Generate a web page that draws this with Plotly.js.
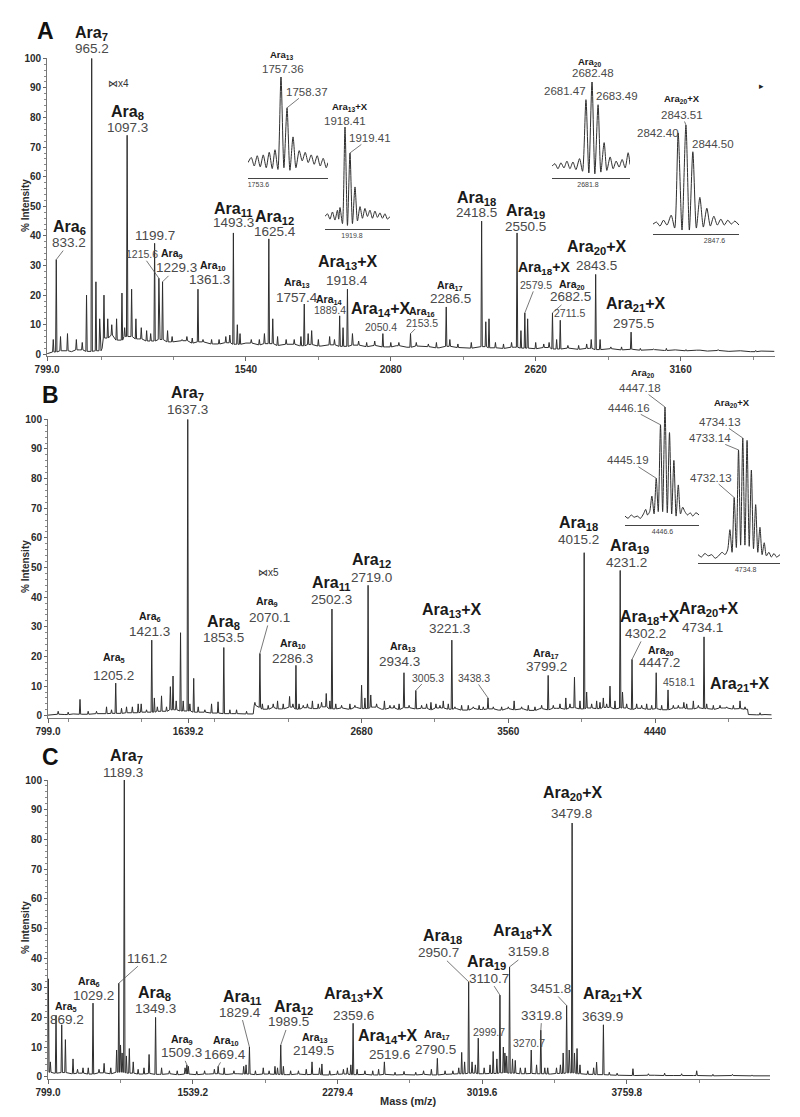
<!DOCTYPE html>
<html><head><meta charset="utf-8">
<script src="https://cdn.plot.ly/plotly-3.0.1.min.js"></script>
<style>body{margin:0;background:#fff}#chart{width:800px;height:1117px}</style>
</head><body><div id="chart"></div>
<script>
// ---------------- DATA ----------------
// Panel A: baseline level [m/z, %] and peaks [m/z, %]
const baseA = [[799,0.2],[830,0.8],[860,1.2],[890,0.9],[920,1.5],[950,1.0],[1000,1.2],[1004,2.0],[1010,5.5],[1040,6.5],[1070,4.8],[1100,6.0],[1140,5.2],[1180,4.5],[1220,5.0],[1260,4.2],[1300,4.6],[1340,3.8],[1380,4.2],[1420,3.5],[1460,3.9],[1500,3.4],[1540,3.8],[1580,3.2],[1620,3.6],[1660,3.0],[1700,3.4],[1740,2.9],[1780,3.3],[1820,2.8],[1860,3.2],[1900,2.7],[1940,3.1],[1980,2.6],[2020,3.0],[2060,2.5],[2100,2.9],[2140,2.4],[2180,2.8],[2220,2.6],[2260,2.2],[2300,2.7],[2340,2.3],[2380,2.1],[2420,2.6],[2460,2.2],[2500,2.0],[2540,2.4],[2580,2.1],[2620,1.9],[2660,2.3],[2700,1.8],[2740,2.1],[2780,1.7],[2820,2.0],[2860,1.6],[2900,1.9],[2940,1.5],[2980,1.7],[3020,1.4],[3060,1.6],[3100,1.3],[3140,1.5],[3180,1.2],[3220,1.4],[3260,1.1],[3300,1.3],[3340,1.0],[3380,1.2],[3420,0.9],[3460,1.1],[3510,1.0]];
const peaksA = [[822,5],[833.2,32],[849,6],[875,7],[908,5],[930,4],[946,20],[965.2,100],[981,24.5],[995,12],[1011,20],[1025,12],[1040,10],[1058,12],[1078,20.7],[1088,9],[1097.3,74],[1114,22],[1130,12],[1150,9],[1170,8],[1185,7],[1199.7,37.5],[1215.6,25.7],[1229.3,24.5],[1248,8],[1265,6],[1302,5],[1320,6],[1340,5.5],[1361.3,22],[1380,5],[1412,5],[1440,5],[1465,6],[1480,6.5],[1493.3,41],[1508,10],[1518,7],[1560,5],[1590,5],[1609,7],[1625.4,39],[1640,12],[1658,6],[1690,5],[1720,5],[1745,6],[1757.4,17],[1772,7],[1785,8],[1810,5],[1852,6],[1870,5],[1889.4,13],[1902,9],[1918.4,22],[1937,7],[1960,4.5],[1990,4],[2020,4.5],[2050.4,7],[2080,4],[2110,4],[2153.5,7],[2175,4],[2220,3.5],[2250,4],[2286.5,16],[2300,5],[2330,3.5],[2380,4],[2418.5,45],[2434,11],[2446,12],[2470,4],[2500,3.5],[2530,4],[2550.5,41],[2565,8],[2579.5,14],[2590,12],[2620,4],[2650,3.5],[2670,4],[2682.5,14],[2698,5],[2711.5,11.5],[2740,3],[2780,3],[2810,3.5],[2827,5],[2843.5,27],[2860,5],[2900,2.5],[2940,2.5],[2975.5,7.5],[3010,2],[3060,1.8],[3107,2],[3180,1.6],[3230,1.5],[3300,1.6],[3380,1.4],[3440,1.3]];

// Panel B
const baseB = [[799,0.2],[850,0.5],[900,0.4],[950,0.6],[1000,0.5],[1100,0.7],[1200,0.8],[1300,1.0],[1400,1.2],[1500,1.5],[1560,2.0],[1600,1.6],[1700,1.2],[1800,0.9],[1900,0.7],[2000,0.6],[2030,0.6],[2036,3.5],[2060,2.8],[2100,2.2],[2150,2.8],[2200,2.3],[2250,2.9],[2300,2.2],[2350,2.7],[2400,2.4],[2450,3.0],[2500,2.3],[2550,2.6],[2600,2.2],[2650,2.8],[2700,2.4],[2750,2.9],[2800,2.2],[2850,2.6],[2900,2.1],[2950,2.7],[3000,2.3],[3050,2.5],[3100,2.0],[3150,2.6],[3200,2.2],[3250,2.4],[3300,1.9],[3350,2.5],[3400,2.1],[3450,2.3],[3500,1.9],[3550,2.4],[3600,2.0],[3650,2.3],[3700,1.8],[3750,2.4],[3800,2.0],[3850,2.5],[3900,2.2],[3950,2.7],[4000,2.3],[4050,2.6],[4100,2.4],[4150,2.8],[4200,2.3],[4250,2.6],[4300,2.1],[4350,2.5],[4400,2.2],[4450,2.4],[4500,2.0],[4550,2.5],[4600,2.6],[4650,2.3],[4700,2.7],[4750,2.4],[4800,2.2],[4850,2.6],[4900,2.3],[4950,2.4],[4995,2.2],[5000,0.4],[5050,0.3],[5100,0.4],[5140,0.3]];
const peaksB = [[860,1.5],[920,1.2],[991,5.5],[1040,1.5],[1090,1.5],[1150,3],[1180,2],[1205.2,11],[1240,2.5],[1270,3],[1305,3],[1340,4],[1358,4],[1390,2],[1421.3,25.5],[1437,6],[1455,3],[1480,6.7],[1510,3],[1533,9.8],[1549,13.4],[1568,5],[1594,28],[1610,5],[1637.3,100],[1650,4],[1673,12.6],[1700,3],[1740,2],[1780,4],[1819,4.7],[1853.5,23],[1890,2],[1930,2],[1990,1.5],[2040,4.5],[2070.1,21],[2085,4],[2120,3.5],[2150,4],[2176,5],[2210,4],[2248,6.5],[2268,4],[2286.3,17],[2305,4],[2330,3.5],[2355,4],[2385,5],[2420,4],[2440,4.5],[2468,7.5],[2490,5],[2502.3,36],[2525,4],[2560,3.5],[2610,4],[2640,3.5],[2680,10.3],[2700,6],[2719.0,44],[2735,7],[2770,4],[2817,5],[2850,3.5],[2875,3.5],[2905,4],[2934.3,14.5],[2965,3.5],[3005.3,8.5],[3040,3.5],[3070,4],[3096,4.5],[3126,4],[3150,3.5],[3170,5],[3200,4],[3221.3,25.5],[3240,3],[3280,3.5],[3320,3.5],[3350,3],[3385,3.5],[3410,3],[3438.3,6],[3470,3],[3520,3],[3560,3],[3595,5],[3640,3],[3680,3.5],[3720,3],[3760,3.5],[3799.2,13.6],[3830,3.5],[3870,4],[3905,6],[3930,4],[3957,13],[3990,5],[4015.2,55],[4030,8],[4060,4],[4090,5],[4110,4.5],[4130,6],[4150,4],[4170,10],[4200,5],[4231.2,49],[4245,8],[4270,4],[4302.2,19],[4330,4],[4360,3.5],[4390,4],[4420,3.5],[4447.2,14.5],[4480,3.5],[4518.1,8.7],[4550,3.5],[4580,3.5],[4613,4.5],[4630,4],[4670,5],[4700,3.5],[4734.1,26.6],[4750,4],[4790,3.5],[4830,3.5],[4870,3],[4910,3.5],[4950,5],[4980,3],[5070,1]];

// Panel C
const baseC = [[799,1.5],[830,1.2],[870,1.4],[920,1.0],[970,1.2],[1020,0.9],[1070,1.3],[1120,1.0],[1170,1.5],[1220,1.2],[1270,0.9],[1320,1.1],[1370,0.8],[1420,1.0],[1470,0.7],[1520,0.9],[1570,0.7],[1620,0.9],[1670,1.0],[1720,0.8],[1770,1.0],[1820,0.9],[1870,0.7],[1920,0.9],[1970,0.8],[2020,0.7],[2070,0.9],[2120,0.7],[2170,0.8],[2220,0.6],[2270,0.8],[2320,0.9],[2370,0.7],[2420,0.8],[2470,0.6],[2520,0.8],[2570,0.6],[2620,0.7],[2670,0.6],[2720,0.8],[2770,0.6],[2820,0.8],[2870,0.9],[2920,1.0],[2970,1.2],[3020,1.0],[3070,1.1],[3120,1.3],[3170,1.2],[3220,1.0],[3270,1.1],[3320,1.0],[3370,0.9],[3420,1.1],[3470,1.3],[3520,1.0],[3570,0.8],[3620,0.7],[3670,0.6],[3720,0.5],[3800,0.4],[3900,0.5],[4000,0.4],[4100,0.4],[4200,0.3],[4300,0.4],[4400,0.3],[4492,0.3]];
const peaksC = [[801,33],[811,5],[840,20.7],[869.2,17.5],[888,12.5],[927,6],[950,2.5],[978,3],[1005,3],[1029.2,24.8],[1060,2.5],[1086,4.5],[1120,3],[1150,9],[1161.2,31.5],[1170,10.7],[1178,8],[1189.3,100],[1200,7],[1215,9.5],[1235,5],[1260,2.5],[1290,3],[1316,7.5],[1349.3,20],[1380,3],[1420,2],[1460,2],[1500,3],[1509.3,4],[1517,3.5],[1560,1.8],[1600,2],[1650,2.5],[1669.4,3.5],[1700,3],[1750,2],[1800,3.5],[1812,4],[1829.4,10],[1860,2],[1900,3],[1930,2],[1960,3.5],[1973,3],[1989.5,10.7],[2003,3.5],[2040,2],[2080,2],[2120,2.5],[2149.5,5],[2188,3],[2200,4.3],[2240,2],[2280,2],[2310,2.5],[2330,3],[2348,4],[2359.6,18],[2380,2.5],[2420,2],[2460,2],[2490,2.5],[2519.6,5],[2574,1.5],[2620,1.8],[2680,1.5],[2720,2],[2760,2.5],[2790.5,6.2],[2830,2],[2870,2],[2900,3],[2915,8.2],[2930,5],[2950.7,32],[2968,5],[2985,4],[2999.7,13],[3030,3],[3060,4],[3076,8.5],[3095,6],[3110.7,27.5],[3128,10],[3136,8],[3145,7],[3159.8,37],[3175,6],[3189,5.5],[3215,3],[3240,3],[3270.7,9],[3298,4],[3319.8,15.7],[3340,3],[3355,3],[3400,3],[3420,4],[3434,8],[3451.8,24],[3465,9],[3479.8,85.5],[3492,8],[3505,9.5],[3520,4],[3560,2],[3590,3],[3605,4.9],[3639.9,17.5],[3670,1.5],[3710,1.2],[3791,2.7],[3870,1],[3953,1.2],[4040,1],[4117,2],[4200,0.8],[4300,0.8],[4400,0.6]];

// Inset isotope profiles [m/z, relative intensity]
const insA13 = [[1751.86,0],[1752.4,6],[1752.9,-4],[1753.4,8],[1753.9,-5],[1754.4,9],[1754.9,-6],[1755.4,12],[1755.9,-7],[1756.36,15],[1756.85,-8],[1757.36,100],[1757.85,-6],[1758.37,64],[1758.85,-9],[1759.37,30],[1759.85,-6],[1760.4,14],[1760.9,2],[1761.4,12],[1761.9,0],[1762.4,9],[1762.9,-2],[1763.4,8],[1763.9,-4],[1764.4,5],[1764.9,-6],[1765.2,0]];
const insA13X = [[1914.41,0],[1914.9,3],[1915.4,-3],[1915.9,5],[1916.4,-4],[1916.9,7],[1917.15,-3],[1917.41,10],[1917.9,-8],[1918.41,100],[1918.9,-10],[1919.41,71],[1919.9,-8],[1920.41,33],[1920.9,-5],[1921.41,11],[1921.9,-2],[1922.4,9],[1922.9,0],[1923.4,7],[1923.9,-2],[1924.4,6],[1924.9,-1],[1925.4,4],[1925.9,-2],[1926.4,3],[1926.9,-3],[1927.41,0]];
const insA20 = [[2675.81,0],[2676.3,3],[2676.8,-3],[2677.3,4],[2677.8,-2],[2678.3,6],[2678.8,-3],[2679.3,5],[2679.8,-4],[2680.4,9],[2680.9,-6],[2681.47,79],[2681.95,-8],[2682.48,100],[2682.95,-9],[2683.49,73],[2683.95,-7],[2684.5,28],[2684.95,-5],[2685.5,11],[2686.0,-3],[2686.5,6],[2687.0,-1],[2687.5,8],[2688.0,-2],[2688.5,16],[2688.81,2]];
const insA20X = [[2838.8,0],[2839.3,2],[2839.8,-2],[2840.3,4],[2840.8,-1],[2841.4,9],[2841.9,-4],[2842.40,92],[2842.95,-6],[2843.51,100],[2844.0,-6],[2844.50,73],[2845.0,-4],[2845.5,27],[2846.0,-3],[2846.5,16],[2847.0,-2],[2847.5,8],[2848.0,-1],[2848.5,5],[2849.0,-1],[2849.5,4],[2850.0,0],[2850.5,3],[2851.1,-1]];
const insB20 = [[4438.1,2],[4438.8,0],[4439.5,3],[4440.2,1],[4440.9,2],[4441.6,0],[4442.3,4],[4442.8,8],[4443.2,3],[4443.7,6],[4444.2,20],[4444.7,4],[4445.19,36],[4445.65,6],[4446.16,84],[4446.65,6],[4447.18,100],[4447.7,5],[4448.2,77],[4448.7,4],[4449.2,52],[4449.7,2],[4450.2,30],[4450.7,4],[4451.2,10],[4451.7,6],[4452.3,3],[4452.9,5],[4453.5,2],[4454.2,5],[4454.9,3]];
const insB20X = [[4723.7,2],[4724.5,0],[4725.3,3],[4726.1,1],[4726.9,2],[4727.7,-1],[4728.5,1],[4729.3,4],[4730.0,2],[4730.6,6],[4731.13,23],[4731.63,4],[4732.13,50],[4732.63,8],[4733.14,90],[4733.63,10],[4734.13,100],[4734.63,10],[4735.13,98],[4735.63,9],[4736.13,73],[4736.63,7],[4737.13,44],[4737.63,4],[4738.13,25],[4738.63,2],[4739.13,12],[4739.63,1],[4740.2,4],[4740.8,0],[4741.4,3],[4742.0,0],[4742.8,2]];

// Tick labels
const ticksA = [799, 1540, 2080, 2620, 3160];
const tickTextA = ['799.0', '1540', '2080', '2620', '3160'];
const ticksB = [799, 1639.2, 2680, 3560, 4440];
const tickTextB = ['799.0', '1639.2', '2680', '3560', '4440'];
const ticksC = [799, 1539.2, 2279.4, 3019.6, 3759.8];
const tickTextC = ['799.0', '1539.2', '2279.4', '3019.6', '3759.8'];
const yTicks = [0, 10, 20, 30, 40, 50, 60, 70, 80, 90, 100];
const insetTicks = [1753.6, 1919.8, 2681.8, 2847.6, 4446.6, 4734.8];
const insetTickText = ['1753.6', '1919.8', '2681.8', '2847.6', '4446.6', '4734.8'];

// Peak labels: [m/z, subscript, tail, value text]
const namesA = [[965.2,'7','','965.2'],[1097.3,'8','','1097.3'],[833.2,'6','','833.2'],[1199.7,null,'','1199.7'],[1215.6,null,'','1215.6'],[1229.3,'9','','1229.3'],[1361.3,'10','','1361.3'],[1493.3,'11','','1493.3'],[1625.4,'12','','1625.4'],[1757.4,'13','','1757.4'],[1889.4,'14','','1889.4'],[1918.4,'13','+X','1918.4'],[2050.4,'14','+X','2050.4'],[2153.5,'16','','2153.5'],[2286.5,'17','','2286.5'],[2418.5,'18','','2418.5'],[2550.5,'19','','2550.5'],[2579.5,'18','+X','2579.5'],[2682.5,'20','','2682.5'],[2711.5,null,'','2711.5'],[2843.5,'20','+X','2843.5'],[2975.5,'21','+X','2975.5']];
const namesB = [[1637.3,'7','','1637.3'],[1421.3,'6','','1421.3'],[1205.2,'5','','1205.2'],[1853.5,'8','','1853.5'],[2070.1,'9','','2070.1'],[2286.3,'10','','2286.3'],[2502.3,'11','','2502.3'],[2719.0,'12','','2719.0'],[2934.3,'13','','2934.3'],[3005.3,null,'','3005.3'],[3221.3,'13','+X','3221.3'],[3438.3,null,'','3438.3'],[3799.2,'17','','3799.2'],[4015.2,'18','','4015.2'],[4231.2,'19','','4231.2'],[4302.2,'18','+X','4302.2'],[4447.2,'20','','4447.2'],[4518.1,null,'','4518.1'],[4734.1,'20','+X','4734.1'],[4950,'21','+X',null]];
const namesC = [[1189.3,'7','','1189.3'],[1161.2,null,'','1161.2'],[1029.2,'6','','1029.2'],[869.2,'5','','869.2'],[1349.3,'8','','1349.3'],[1509.3,'9','','1509.3'],[1669.4,'10','','1669.4'],[1829.4,'11','','1829.4'],[1989.5,'12','','1989.5'],[2149.5,'13','','2149.5'],[2359.6,'13','+X','2359.6'],[2519.6,'14','+X','2519.6'],[2790.5,'17','','2790.5'],[2950.7,'18','','2950.7'],[2999.7,null,'','2999.7'],[3110.7,'19','','3110.7'],[3159.8,'18','+X','3159.8'],[3270.7,null,'','3270.7'],[3319.8,null,'','3319.8'],[3451.8,null,'','3451.8'],[3479.8,'20','+X','3479.8'],[3639.9,'21','+X','3639.9']];
// Inset labels: [inset index, m/z, subscript, tail, value text]
const namesIns = [[0,1757.36,'13','','1757.36'],[0,1758.37,null,'','1758.37'],[1,1918.41,'13','+X','1918.41'],[1,1919.41,null,'','1919.41'],[2,2682.48,'20','','2682.48'],[2,2681.47,null,'','2681.47'],[2,2683.49,null,'','2683.49'],[3,2843.51,'20','+X','2843.51'],[3,2842.40,null,'','2842.40'],[3,2844.50,null,'','2844.50'],[4,4447.18,'20','','4447.18'],[4,4446.16,null,'','4446.16'],[4,4445.19,null,'','4445.19'],[5,4734.13,'20','+X','4734.13'],[5,4733.14,null,'','4733.14'],[5,4732.13,null,'','4732.13']];

// ---------------- LAYOUT / STYLE (positions in px, not data) ----------------
const W = 800, H = 1117;
const F_NAME = '"Liberation Sans", Arial, sans-serif';
const F_NUM = '"Liberation Sans Narrow", "Arial Narrow", "Liberation Sans", sans-serif';
const NAME_SIZE = {L: 16, M: 14, S: 10.5, I: 9.5};
const NUM_SIZE = {L: 13.5, S: 10.5, I: 11.5};
// per label: [name style, name dx, name dy, num style, num dx, num dy, leader]
const styA = [['L',0,-25,'L',0,-10,0],['L',0,-23,'L',0,-8,0],['L',13,-32,'L',13,-17,1],[null,0,0,'L',0,-8,0],[null,0,0,'S',-17,-24,1],['S',9,-28,'L',14,-14,1],['S',15,-23,'L',12,-10,0],['L',0,-23,'L',0,-10,0],['L',6,-21,'L',6,-7,0],['S',-7,-21,'L',-7,-7,0],['S',-10,-16,'S',-10,-6,1],['L',0,-27,'L',0,-9,0],['L',-2,-24,'S',-2,-7,0],['S',11,-22,'S',11,-11,1],['S',4,-21,'L',4,-8,1],['L',-5,-23,'L',-5,-9,0],['L',8,-21,'L',8,-6,0],['M',19,-45,'S',11,-28,1],['S',20,-28,'L',18,-16,1],[null,0,0,'S',9,-7,0],['L',1,-27,'L',1,-9,0],['L',4,-28,'L',2,-9,0]];
const styB = [['L',0,-26,'L',0,-10,0],['S',-2,-23,'L',-2,-9,0],['S',-2,-25,'L',-2,-8,0],['L',0,-25,'L',0,-10,0],['S',7,-51,'L',10,-36,1],['S',-3,-21,'L',-3,-7,0],['L',0,-26,'L',0,-10,0],['L',3,-25,'L',3,-8,0],['S',-1,-26,'L',-4,-11,0],[null,0,0,'S',12,-13,1],['L',0,-30,'L',-2,-12,0],[null,0,0,'S',-14,-20,1],['S',-2,-21,'L',-2,-9,0],['L',-6,-29,'L',-6,-13,0],['L',9,-24,'L',6,-8,0],['L',17,-42,'L',13,-26,1],['S',5,-22,'L',3,-10,0],[null,0,0,'S',11,-8,0],['L',4,-27,'L',-2,-9,0],['L',-1,-16,null,0,0,0]];
const styC = [['L',2,-23,'L',-1,-7,0],[null,0,0,'L',28,-25,1],['S',-4,-21,'L',0,-8,0],['S',4,-18,'L',5,-5,0],['L',-1,-24,'L',0,-9,0],['S',-5,-25,'L',-5,-12,1],['S',8,-25,'L',7,-12,1],['L',-7,-50,'L',-9,-35,1],['L',13,-37,'L',8,-23,1],['S',3,-24,'L',1,-11,0],['L',0,-29,'L',0,-8,0],['L',3,-25,'L',5,-7,0],['S',0,-23,'L',-2,-9,0],['L',-26,-45,'L',-30,-29,1],[null,0,0,'S',11,-6,0],['L',-13,-33,'L',-11,-17,1],['L',13,-35,'L',19,-15,1],[null,0,0,'S',-2,-7,0],[null,0,0,'L',1,-15,1],[null,0,0,'L',-16,-17,1],['L',0,-30,'L',-1,-10,0],['L',9,-30,'L',-1,-8,0]];
const styIns = [['I',1,-22,'I',2,-8,0],[null,0,0,'I',20,-16,1],['I',5,-20,'I',0,-6,0],[null,0,0,'I',20,-15,1],['I',-2,-20,'I',1,-9,0],[null,0,0,'I',-21,-9,0],[null,0,0,'I',19,-9,0],['I',-4,-26,'I',-4,-10,1],[null,0,0,'I',-20,0,0],[null,0,0,'I',20,-8,0],['I',-22,-34,'I',-25,-19,1],[null,0,0,'I',-32,-17,1],[null,0,0,'I',-28,-18,1],['I',-11,-35,'I',-23,-16,1],[null,0,0,'I',-29,-12,1],[null,0,0,'I',-23,-20,1]];

const mainGeom = [
  {x: [47.1, 774.5], y: [356.1, 58.3], range: [799, 3510], minor0: 1540, minorD: 270},
  {x: [48, 771.7], y: [717.5, 419.3], range: [799, 5140], minor0: 2680, minorD: 440},
  {x: [48, 770], y: [1078.5, 780], range: [799, 4492], minor0: 799, minorD: 370.1}
];
// inset geometry: x px span, px of value 100, px of axis line, m/z range, bottom value
const insetGeom = [
  {x: [248, 328], p100: 77, pBot: 178, range: [1751.86, 1765.2], y0: -18},
  {x: [325, 390], p100: 127, pBot: 229, range: [1914.41, 1927.41], y0: -14},
  {x: [552, 630], p100: 82, pBot: 178, range: [2675.81, 2688.81], y0: -14},
  {x: [653, 739], p100: 125, pBot: 234, range: [2838.8, 2851.1], y0: -10},
  {x: [625, 699], p100: 407, pBot: 525, range: [4438.1, 4454.9], y0: -6},
  {x: [698, 780], p100: 438, pBot: 563, range: [4723.7, 4742.8], y0: -5}
];

// ---------------- BUILD ----------------
function spectrum(base, peaks, w) {
  const pts = base.filter(b => !peaks.some(p => Math.abs(p[0] - b[0]) <= w)).map(b => [b[0], b[1]]);
  peaks.forEach(p => {
    let best = base[0];
    base.forEach(b => { if (Math.abs(b[0] - p[0]) < Math.abs(best[0] - p[0])) best = b; });
    pts.push([p[0] - w, best[1]], [p[0], p[1]], [p[0] + w, best[1]]);
  });
  pts.sort((a, b) => a[0] - b[0]);
  return {x: pts.map(p => p[0]), y: pts.map(p => p[1])};
}
function heightAt(list, mz) {
  for (const p of list) if (Math.abs(p[0] - mz) < 1e-6) return p[1];
  return 0;
}
const px = v => v / W, py = v => 1 - v / H;

const traces = [];
const panels = [
  {base: baseA, peaks: peaksA, w: 2.5, names: namesA, sty: styA, ticks: ticksA, tt: tickTextA},
  {base: baseB, peaks: peaksB, w: 4, names: namesB, sty: styB, ticks: ticksB, tt: tickTextB},
  {base: baseC, peaks: peaksC, w: 3.5, names: namesC, sty: styC, ticks: ticksC, tt: tickTextC}
];
const insets = [insA13, insA13X, insA20, insA20X, insB20, insB20X];

const layout = {
  width: W, height: H, margin: {l: 0, r: 0, t: 0, b: 0},
  paper_bgcolor: '#fff', plot_bgcolor: 'rgba(0,0,0,0)', showlegend: false,
  annotations: [], font: {family: F_NAME}
};
const tickFont = {family: F_NUM, size: 10, color: '#2b2b2b', weight: 700};

panels.forEach((p, i) => {
  const s = i === 0 ? '' : String(i + 1);
  const g = mainGeom[i];
  const d = spectrum(p.base, p.peaks, p.w);
  traces.push({type: 'scatter', mode: 'lines', x: d.x, y: d.y, xaxis: 'x' + s, yaxis: 'y' + s,
    line: {color: '#2e2e2e', width: 1}, hoverinfo: 'skip'});
  layout['xaxis' + s] = {domain: [px(g.x[0]), px(g.x[1])], range: g.range, anchor: 'y' + s,
    tickmode: 'array', tickvals: p.ticks, ticktext: p.tt, ticks: 'outside', ticklen: 4, tickwidth: 1,
    tickcolor: '#666', showline: true, linecolor: '#777', linewidth: 1, showgrid: false, zeroline: false,
    tickfont: tickFont, minor: {tick0: g.minor0, dtick: g.minorD, ticks: 'outside', ticklen: 3, tickcolor: '#888', showgrid: false}};
  layout['yaxis' + s] = {domain: [py(g.y[0]), py(g.y[1])], range: [-0.6, 100], anchor: 'x' + s,
    tickmode: 'array', tickvals: yTicks, ticks: 'outside', ticklen: 3, tickwidth: 1, tickcolor: '#666',
    showline: true, linecolor: '#777', linewidth: 1, showgrid: false, zeroline: false, tickfont: tickFont,
    minor: {dtick: 2, ticks: 'outside', ticklen: 2, tickcolor: '#888', showgrid: false}};
});

insets.forEach((prof, k) => {
  const id = k + 4, g = insetGeom[k];
  const top = 103;
  const scale = (g.pBot - g.p100) / (100 - g.y0);
  const pTop = g.p100 - (top - 100) * scale;
  traces.push({type: 'scatter', mode: 'lines', x: prof.map(v => v[0]), y: prof.map(v => v[1]),
    xaxis: 'x' + id, yaxis: 'y' + id, line: {color: '#2e2e2e', width: 1, shape: 'spline', smoothing: 0.7}, hoverinfo: 'skip'});
  layout['xaxis' + id] = {domain: [px(g.x[0]), px(g.x[1])], range: g.range, anchor: 'y' + id,
    tickmode: 'array', tickvals: [insetTicks[k]], ticktext: [insetTickText[k]], ticks: '', showline: true,
    linecolor: '#444', linewidth: 1, showgrid: false, zeroline: false,
    tickfont: {family: F_NUM, size: 7, color: '#444'}};
  layout['yaxis' + id] = {domain: [py(g.pBot), py(pTop)], range: [g.y0, top], anchor: 'x' + id, visible: false};
});

function ann(xr, yr, x, y, text, font, ax, ay, lead) {
  return {xref: xr, yref: yr, x: x, y: y, text: text, font: font, showarrow: true, arrowhead: 0,
    arrowwidth: 0.8, arrowcolor: lead ? '#555' : 'rgba(0,0,0,0)', ax: ax, ay: ay, standoff: 0, borderpad: 0};
}
function addLabels(names, sty, xr, yr, list) {
  names.forEach((n, j) => {
    const st = sty[j];
    const h = heightAt(list, n[0]);
    if (n[1] !== null && st[0]) {
      layout.annotations.push(ann(xr, yr, n[0], h, 'Ara<sub>' + n[1] + '</sub>' + n[2],
        {family: F_NAME, size: NAME_SIZE[st[0]], color: '#1a1a1a', weight: 700}, st[1], st[2], 0));
    }
    if (n[3] !== null && st[3]) {
      layout.annotations.push(ann(xr, yr, n[0], h, n[3],
        {family: F_NUM, size: NUM_SIZE[st[3]], color: '#4a4a4a'}, st[4], st[5], st[6]));
    }
  });
}
panels.forEach((p, i) => {
  const s = i === 0 ? '' : String(i + 1);
  addLabels(p.names, p.sty, 'x' + s, 'y' + s, p.peaks);
});
namesIns.forEach((n, j) => {
  const k = n[0], id = k + 4;
  addLabels([[n[1], n[2], n[3], n[4]]], [styIns[j]], 'x' + id, 'y' + id, insets[k]);
});

// panel letters, scale markers, axis titles
const paperText = (x, y, text, font, extra) => Object.assign({xref: 'paper', yref: 'paper', x: px(x), y: py(y),
  text: text, showarrow: false, xanchor: 'center', yanchor: 'middle', font: font}, extra || {});
layout.annotations.push(paperText(45, 31, 'A', {family: F_NAME, size: 23, color: '#111', weight: 700}));
layout.annotations.push(paperText(50, 395, 'B', {family: F_NAME, size: 23, color: '#111', weight: 700}));
layout.annotations.push(paperText(50, 757, 'C', {family: F_NAME, size: 23, color: '#111', weight: 700}));
layout.annotations.push(paperText(118, 83, '⋈x4', {family: F_NUM, size: 10, color: '#333'}));
layout.annotations.push(paperText(268, 572, '⋈x5', {family: F_NUM, size: 10, color: '#333'}));
layout.annotations.push(paperText(761, 86, '▸', {family: F_NAME, size: 9, color: '#222'}));
[206, 567, 928].forEach(y => layout.annotations.push(paperText(25, y, '% Intensity',
  {family: F_NUM, size: 10, color: '#2b2b2b', weight: 700}, {textangle: -90})));
layout.annotations.push(paperText(408, 1101, 'Mass (m/z)', {family: F_NUM, size: 11, color: '#2b2b2b', weight: 700}));

Plotly.newPlot('chart', traces, layout, {displayModeBar: false, staticPlot: true});
</script></body></html>
